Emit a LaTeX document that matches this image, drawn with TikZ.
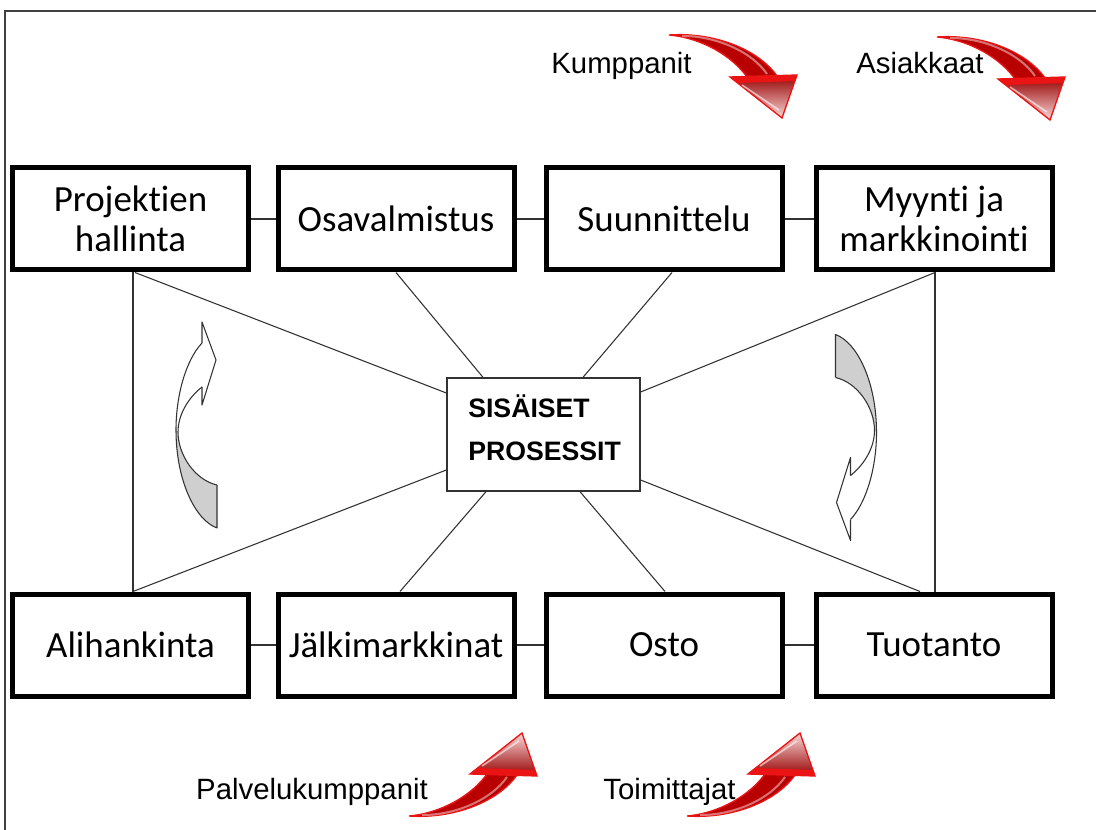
\documentclass[tikz,border=0pt]{standalone}
\usepackage{fontspec}
\setmainfont{Carlito}[RawFeature={-liga;-clig;-dlig}]
\newfontfamily\arialf{Liberation Sans}
\usetikzlibrary{calc}
\definecolor{shaftred}{RGB}{185,0,0}
\definecolor{edgered}{RGB}{235,20,20}
\definecolor{darkred}{RGB}{150,0,0}
\definecolor{pinkred}{RGB}{250,215,215}
\definecolor{linegray}{RGB}{50,50,50}
\tikzset{
  box/.style={draw=black, line width=3.75pt, minimum width=177pt, minimum height=76.5pt,
    align=center, inner sep=0pt, fill=white, font=\fontsize{27.7pt}{30pt}\selectfont},
  centerbox/.style={draw=linegray, line width=1pt, minimum width=144.75pt, minimum height=84.75pt,
    inner sep=0pt, fill=white},
  centertext/.style={anchor=base west, inner sep=0pt, font=\arialf\bfseries\fontsize{20pt}{24pt}\selectfont},
  lbl/.style={anchor=base, inner sep=0pt, font=\arialf\fontsize{22pt}{26pt}\selectfont},
  conn/.style={draw=linegray, line width=0.8pt},
  frameline/.style={draw=black!75, line width=1.1pt},
  arrline/.style={draw=black!80, line width=0.8pt, line join=round},
  curvarr/.pic={
    \fill[gray!38] (-20.5,5) .. controls (-20.5,55) and (-1.5,95) .. (20.5,103) -- (20.5,60)
       .. controls (-1.5,55) and (-18.5,30) .. (-18.5,7) -- cycle;
    \fill[white] (-20.5,5) .. controls (-20.5,-30) and (-10.5,-65) .. (5.5,-82) -- (5.5,-103)
       -- (19.5,-65) -- (5.5,-20) -- (5.5,-38) .. controls (-8.5,-27) and (-18.5,-10) .. (-18.5,7) -- cycle;
    \draw[arrline] (5.5,-82) -- (5.5,-103) -- (19.5,-65) -- (5.5,-20) -- (5.5,-38);
    \draw[arrline] (5.5,-82) .. controls (-10.5,-65) and (-20.5,-30) .. (-20.5,5)
       .. controls (-20.5,55) and (-1.5,95) .. (20.5,103) -- (20.5,60);
    \draw[arrline] (5.5,-38) .. controls (-8.5,-27) and (-18.5,-10) .. (-18.5,7)
       .. controls (-18.5,30) and (-1.5,55) .. (20.5,60);
  }
}
% #1 tip x, #2 tip y, #3 vertical sign, #4 head colour near base, #5 head colour near tip
\newcommand\redarr[5]{%
  \fill[shaftred, draw=edgered, line width=1pt]
    ({#1-113},{#2-83*#3}) .. controls ({#1-70},{#2-86*#3}) and ({#1-25},{#2-70*#3}) .. ({#1-5},{#2-42*#3})
    -- ({#1-35},{#2-41*#3}) .. controls ({#1-50},{#2-62*#3}) and ({#1-80},{#2-80*#3}) .. cycle;
  \draw[white, opacity=0.45, line width=1.5pt]
    ({#1-100},{#2-82*#3}) .. controls ({#1-65},{#2-82*#3}) and ({#1-30},{#2-66*#3}) .. ({#1-15},{#2-44*#3});
  \shade[top color=#4, bottom color=#5, draw=edgered, line width=1pt]
    ({#1-52},{#2-41*#3}) -- ({#1+15},{#2-43*#3}) -- ({#1},{#2}) -- cycle;
  \fill[edgered] ({#1-52},{#2-41*#3}) -- ({#1+15},{#2-43*#3}) -- ({#1+13.5},{#2-37*#3}) -- ({#1-45},{#2-35*#3}) -- cycle;
  \draw[white, opacity=0.6, line width=1.2pt] ({#1-40},{#2-33*#3}) -- ({#1-3},{#2-8*#3});
}
\begin{document}
\begin{tikzpicture}[x=0.75pt,y=-0.75pt]
\useasboundingbox (0,0) rectangle (1096,830);
\fill[white] (0,0) rectangle (1096,830);
\draw[frameline] (5,830) -- (5,11) -- (1096,11);

% red arrows
\redarr{782}{118}{1}{darkred}{pinkred}
\redarr{1050}{120}{1}{darkred}{pinkred}
\redarr{522}{733}{-1}{pinkred}{darkred}
\redarr{800}{733}{-1}{pinkred}{darkred}

\node[lbl] (kump) at (621.5,74) {Kumppanit};
\node[lbl] (asiak) at (920,74) {Asiakkaat};
\node[lbl] (palv) at (312,799) {Palvelukumppanit};
\node[lbl] (toim) at (669.5,799) {Toimittajat};

% boxes
\node[box] (p1) at (130.5,219) {Projektien\\hallinta};
\node[box] (p2) at (396,219) {Osavalmistus};
\node[box] (p3) at (664,219) {Suunnittelu};
\node[box] (p4) at (934,219) {Myynti ja\\markkinointi};
\node[box] (b1) at (130.5,645) {Alihankinta};
\node[box] (b2) at (396,645) {Jälkimarkkinat};
\node[box] (b3) at (664,645) {Osto};
\node[box] (b4) at (934,645) {Tuotanto};

\node[centerbox] (c) at (543.5,434.5) {};
\node[centertext] (ct1) at (468,418) {SISÄISET};
\node[centertext] (ct2) at (468,460) {PROSESSIT};

% connectors between boxes
\draw[conn] (p1) -- (p2);
\draw[conn] (p2) -- (p3);
\draw[conn] (p3) -- (p4);
\draw[conn] (b1) -- (b2);
\draw[conn] (b2) -- (b3);
\draw[conn] (b3) -- (b4);

% vertical side lines
\draw[conn] ($(p1.south)+(2.5,0)$) -- ($(b1.north)+(2.5,0)$);
\draw[conn] ($(p4.south)+(1,0)$) -- ($(b4.north)+(1,0)$);

% spokes to the centre box
\draw[conn] ($(p1.south)+(4.5,0)$) -- ($(c.west)+(0,-41.5)$);
\draw[conn] ($(b1.north)+(2.5,0)$) -- ($(c.west)+(0,35.5)$);
\draw[conn] (p2.south) -- ($(c.north)+(-60.5,0)$);
\draw[conn] ($(p3.south)+(8,0)$) -- ($(c.north)+(39.5,0)$);
\draw[conn] ($(p4.south)+(1,0)$) -- ($(c.east)+(0,-42.5)$);
\draw[conn] ($(b2.north)+(4,0)$) -- ($(c.south)+(-57.5,0)$);
\draw[conn] ($(b3.north)+(1,0)$) -- ($(c.south)+(36.5,0)$);
\draw[conn] ($(b4.north)+(-14,0)$) -- ($(c.east)+(0,45.5)$);

% curved rotation arrows
\pic at (196.5,425) {curvarr};
\pic[rotate=180] at (856,437.5) {curvarr};
\end{tikzpicture}
\end{document}
